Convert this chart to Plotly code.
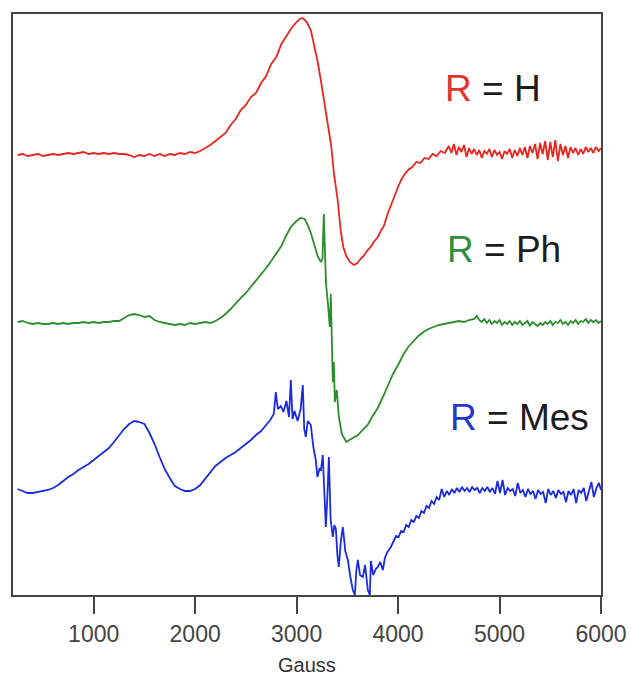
import plotly.graph_objects as go

# ---- EPR spectra (field in Gauss, derivative intensity in arbitrary units) ----

RED_G = [250, 300, 350, 400, 450, 500, 550, 600, 650, 700,
         750, 800, 850, 900, 950, 1000, 1050, 1100, 1150, 1200,
         1250, 1300, 1350, 1400, 1450, 1500, 1550, 1600, 1650, 1700,
         1750, 1800, 1850, 1900, 1950,
         2000, 2050, 2100, 2150, 2200, 2250, 2300, 2350, 2400, 2450,
         2500, 2550, 2600, 2650, 2700, 2750, 2800, 2850, 2900, 2950,
         3000, 3030, 3060, 3100, 3140, 3180, 3210, 3240, 3270, 3300,
         3340, 3370, 3405, 3435, 3460, 3490, 3525, 3565, 3600, 3630,
         3660, 3700, 3730, 3760, 3800, 3830, 3860, 3900, 3930, 3960,
         4000, 4030, 4060, 4100, 4140, 4180, 4220, 4260, 4300, 4340,
         4380, 4420, 4460,
         4500, 4525, 4550, 4575, 4600, 4625, 4650, 4675, 4700, 4725,
         4750, 4775, 4800, 4825, 4850, 4875, 4900, 4925, 4950, 4975,
         5000, 5025, 5050, 5075, 5100, 5125, 5150, 5175, 5200, 5225,
         5250, 5275, 5300, 5325, 5350, 5375, 5400, 5425, 5450, 5475,
         5500, 5525, 5550, 5575, 5600, 5625, 5650, 5675, 5700, 5725,
         5750, 5775, 5800, 5825, 5850, 5875, 5900, 5925, 5950, 5975,
         6000]
RED_I = [0, 1, -1, 0, 1, -1, 0, 1, 0, 1,
         2, 1, 2, 3, 1, 2, 1, 2, 1, 2,
         1, 1, 0, -2, 0, -1, 1, -1, 1, -1,
         1, 0, 2, 1, 3,
         2, 4, 7, 10, 14, 18, 22, 30, 36, 45,
         50, 58, 62, 72, 79, 91, 98, 111, 119, 127,
         133, 136, 137, 133, 125, 108, 92, 74, 54, 34,
         10, -20, -45, -76, -92, -101, -107, -110, -108, -104,
         -101, -95, -92, -87, -82, -76, -71, -58, -50, -41,
         -32, -25, -20, -15, -12, -7, -8, -3, -4, 1,
         -1, 4, 2,
         9, 2, 11, 0, 8, 3, 10, -2, 7, 1,
         6, 0, 5, -3, 4, 1, 6, -2, 5, 0,
         3, -4, 4, 1, 6, -3, 5, -1, 7, 0,
         8, -3, 9, 2, 11, -4, 12, 1, 14, -5,
         13, -2, 15, -6, 11, 0, 9, -3, 8, 2,
         7, 0, 6, 1, 8, 3, 7, 2, 8, 4,
         7]

GREEN_G = [250, 300, 350, 400, 450, 500, 550, 600, 650, 700,
           750, 800, 850, 900, 950, 1000, 1050, 1100, 1150, 1200,
           1250, 1300, 1350, 1400, 1450, 1500, 1550, 1600, 1650, 1700,
           1750, 1800, 1850, 1900, 1950, 2000, 2050, 2100, 2150, 2200,
           2250, 2300, 2350, 2400, 2450, 2500, 2550, 2600, 2650, 2700,
           2750, 2800, 2850, 2900, 2950, 3000, 3040, 3080, 3110, 3140,
           3175, 3210, 3240, 3255, 3268, 3280, 3290, 3308, 3327, 3337,
           3347, 3357, 3367, 3377, 3396, 3416, 3446, 3470, 3490, 3520,
           3560, 3605, 3650, 3700, 3750, 3800, 3860, 3900, 3950, 4000,
           4050, 4100, 4150, 4200, 4250, 4300, 4350, 4400, 4450, 4500,
           4550, 4600, 4650, 4700, 4750, 4775, 4800,
           4825, 4850, 4875, 4900, 4925, 4950, 4975, 5000, 5025, 5050,
           5075, 5100, 5125, 5150, 5175, 5200, 5225, 5250, 5275, 5300,
           5325, 5350, 5375, 5400, 5425, 5450, 5475, 5500, 5525, 5550,
           5575, 5600, 5625, 5650, 5675, 5700, 5725, 5750, 5775, 5800,
           5825, 5850, 5875, 5900, 5925, 5950, 5975, 6000]
GREEN_I = [0, 1, -1, -2, -1, -2, -2, -1, -2, -1,
           -2, -1, -1, 0, -1, 0, -1, 0, 0, 1,
           1, 4, 7, 8, 7, 5, 6, 2, 0, -1,
           -2, -3, -2, -3, -1, -2, -1, 0, -1, 1,
           4, 8, 13, 19, 24, 29, 35, 41, 47, 54,
           61, 68, 76, 87, 96, 101, 104, 103, 97, 89,
           76, 65, 60, 63, 108, 55, 38, 19, -5, 28,
           -25, -60, -40, -80, -68, -95, -112, -117, -120, -118,
           -116, -113, -108, -103, -94, -86, -73, -63, -52, -43,
           -33, -25, -19, -14, -10, -7, -5, -3, -2, -1,
           0, 1, 0, 2, 3, 6, 2,
           0, 3, -1, 2, -2, 1, -1, 2, -3, 0,
           -2, 1, -3, 0, -2, 1, -3, -1, 1, -4,
           0, -2, -4, -1, -3, 0, -2, 1, -3, 0,
           -1, 2, -2, 0, -3, 1, -1, 2, -2, 1,
           0, 3, -1, 2, 0, 2, -1, 1]

BLUE_G = [250, 300, 350, 400, 450, 500, 550, 600, 650, 700,
          750, 800, 850, 900, 950, 1000, 1050, 1100, 1150, 1200,
          1250, 1300, 1350, 1400, 1450, 1500, 1550, 1600, 1650, 1700,
          1750, 1800, 1850, 1900, 1950, 2000, 2050, 2100, 2150, 2200,
          2250, 2300, 2350, 2400, 2450, 2500, 2550, 2600, 2650, 2700,
          2740, 2775, 2795, 2815, 2845, 2870, 2900, 2925, 2943, 2960,
          2980, 3010, 3040, 3061, 3075, 3091, 3110, 3140, 3165, 3189,
          3205, 3225, 3240, 3258, 3272, 3288, 3303, 3318, 3335, 3357,
          3372, 3387, 3402, 3416, 3436, 3456, 3480, 3505, 3530, 3554,
          3574, 3590, 3604, 3625, 3653, 3675, 3702, 3722, 3732, 3755,
          3780, 3801, 3825, 3850, 3870, 3895, 3929, 3955, 3980, 4005,
          4030, 4055, 4080, 4105, 4130, 4155, 4180, 4205, 4230, 4255,
          4280, 4305, 4330, 4355, 4380, 4405, 4430, 4455, 4480, 4505,
          4530, 4555, 4580, 4605, 4630, 4655, 4680, 4705, 4730, 4755,
          4780, 4805, 4830, 4855, 4880, 4905, 4930, 4955, 4980, 5005,
          5030, 5055, 5080, 5105, 5130, 5155, 5180, 5205, 5230, 5255,
          5280, 5305, 5330, 5355, 5380, 5405, 5430, 5455, 5480, 5505,
          5530, 5555, 5580, 5605, 5630, 5655, 5680, 5705, 5730, 5755,
          5780, 5805, 5830, 5855, 5880, 5905, 5930, 5955, 5980, 6000]
BLUE_I = [0, -2, -4, -4, -3, -2, -1, 1, 4, 8,
          12, 15, 19, 22, 25, 29, 33, 37, 41, 47,
          54, 60, 65, 68, 67, 65, 56, 45, 32, 20,
          11, 3, 0, -2, -2, 0, 4, 10, 17, 23,
          27, 31, 34, 37, 41, 45, 49, 54, 58, 64,
          69, 75, 97, 80, 83, 77, 88, 72, 109, 70,
          78, 68, 80, 104, 60, 52, 68, 64, 42, 29,
          12, 20, 19, 34, -10, -38, -8, 32, -30, -48,
          -36, -40, -66, -78, -52, -38, -62, -71, -88, -101,
          -106, -80, -71, -86, -88, -76, -101, -106, -72, -86,
          -80, -78, -73, -81, -69, -63, -58, -53, -47, -48,
          -42, -43, -36, -38, -31, -33, -27, -29, -22, -24,
          -17, -19, -12, -15, -8, -11, 0, -8, -2, -6,
          0, -4, 1, -3, 2, -2, 1, -3, 2, -1,
          1, -4, 1, -2, 2, -3, 1, -5, 8, -4,
          9, -6, 1, -2, 0, -7, 6, -4, -1, -8,
          0, -5, -2, -10, -1, -5, -3, -14, 0, -6,
          -2, -9, -1, -5, -3, -13, -2, -6, 0, -14,
          -1, -4, 1, -12, -2, 7, -8, 1, 6, -1]

# Vertical stacking of the three spectra
OFFSETS = {"H": 440, "Ph": 273, "Mes": 106}

SERIES = [
    ("H", RED_G, RED_I, "#e8261e", "#e2342e"),
    ("Ph", GREEN_G, GREEN_I, "#2b8d2b", "#2f8f3b"),
    ("Mes", BLUE_G, BLUE_I, "#1c2be0", "#2838cc"),
]

# label anchor: (left edge in Gauss, vertical centre)
LABEL_POS = {"H": (4440, 507), "Ph": (4465, 346), "Mes": (4490, 178)}

X_TICKS = [1000, 2000, 3000, 4000, 5000, 6000]

FONT = "Liberation Sans, Arial, Helvetica, sans-serif"

fig = go.Figure()
annotations = []
for name, xs, ys, line_col, label_col in SERIES:
    assert len(xs) == len(ys), name
    off = OFFSETS[name]
    fig.add_trace(go.Scatter(
        x=xs, y=[v + off for v in ys], mode="lines",
        line=dict(color=line_col, width=1.8),
        name=f"R = {name}", showlegend=False,
    ))
    lx, ly = LABEL_POS[name]
    annotations.append(dict(
        x=lx, y=ly, xref="x", yref="y", xanchor="left", yanchor="middle",
        text=f'<span style="color:{label_col}">R</span> = {name}',
        showarrow=False, font=dict(family=FONT, size=37, color="#1c1c1c"),
    ))

annotations.append(dict(
    x=0.5, y=-0.12, xref="paper", yref="paper", xanchor="center", yanchor="middle",
    text="Gauss", showarrow=False, font=dict(family=FONT, size=20, color="#333333"),
))

fig.update_layout(
    width=631, height=675,
    margin=dict(l=13, r=30, t=14, b=80, autoexpand=False),
    paper_bgcolor="white", plot_bgcolor="white",
    annotations=annotations,
    xaxis=dict(
        range=[205, 6000], tickvals=X_TICKS, ticktext=[str(t) for t in X_TICKS],
        ticks="outside", ticklen=17, tickwidth=2, tickcolor="#444444",
        showline=True, linewidth=2, linecolor="#444444", mirror=True,
        showgrid=False, zeroline=False, automargin=False,
        tickfont=dict(family=FONT, size=23, color="#444444"),
    ),
    yaxis=dict(
        range=[0, 581], showticklabels=False, ticks="",
        showline=True, linewidth=2, linecolor="#444444", mirror=True,
        showgrid=False, zeroline=False, automargin=False,
    ),
)

fig.write_html("out.html")
